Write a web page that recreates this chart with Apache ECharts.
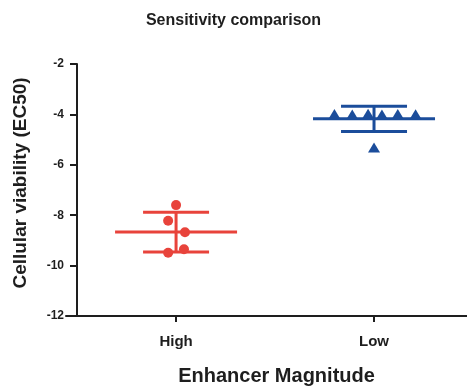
<!DOCTYPE html>
<html>
<head>
<meta charset="utf-8">
<script src="https://cdn.jsdelivr.net/npm/echarts@6/dist/echarts.min.js"></script>
<style>
  html, body { margin: 0; padding: 0; background: #fff; }
  #chart { width: 467px; height: 387px; }
</style>
</head>
<body>
<div id="chart"></div>
<script>
// groups on the x axis (group i sits at x = i)
const categories = ['High', 'Low'];
const categoryPositions = [0, 1];

// EC50 values, with the horizontal jitter of each dot
const highValues = [-7.6, -8.22, -8.68, -9.49, -9.35];
const highJitter = [0.0, -0.04, 0.045, -0.04, 0.04];
const lowValues = [-3.98, -4.0, -3.97, -4.0, -3.98, -3.99, -5.31];
const lowJitter = [-0.2, -0.11, -0.03, 0.04, 0.12, 0.21, 0.0];

const yTicks = [-12, -10, -8, -6, -4, -2];

const RED = '#e8433b';
const BLUE = '#1b4d9b';
const AXIS = '#1e1e1e';
const TEXT = '#1e1e1e';

function mean(arr) {
  return arr.reduce((a, b) => a + b, 0) / arr.length;
}

function sd(arr) {
  const m = mean(arr);
  return Math.sqrt(arr.reduce((a, b) => a + (b - m) * (b - m), 0) / (arr.length - 1));
}

function points(values, jitter, groupIndex) {
  return values.map((v, i) => [categoryPositions[groupIndex] + jitter[i], v]);
}

function errorBarSeries(values, groupIndex, color) {
  return {
    type: 'custom',
    z: 1,
    data: [[categoryPositions[groupIndex], mean(values), sd(values)]],
    renderItem: (params, api) => {
      const x = api.value(0);
      const m = api.value(1);
      const s = api.value(2);
      const mid = api.coord([x, m]);
      const top = api.coord([x, m + s]);
      const bottom = api.coord([x, m - s]);
      const style = { stroke: color, lineWidth: 3 };
      return {
        type: 'group',
        children: [
          { type: 'line', shape: { x1: mid[0] - 61, y1: mid[1], x2: mid[0] + 61, y2: mid[1] }, style },
          { type: 'line', shape: { x1: top[0] - 33, y1: top[1], x2: top[0] + 33, y2: top[1] }, style },
          { type: 'line', shape: { x1: bottom[0] - 33, y1: bottom[1], x2: bottom[0] + 33, y2: bottom[1] }, style },
          { type: 'line', shape: { x1: top[0], y1: top[1], x2: bottom[0], y2: bottom[1] }, style },
        ],
      };
    },
  };
}

const chart = echarts.init(document.getElementById('chart'), null, { renderer: 'canvas' });

chart.setOption({
  animation: false,
  textStyle: { fontFamily: 'Liberation Sans, Arial, sans-serif' },
  title: {
    text: 'Sensitivity comparison',
    left: 'center',
    top: 8,
    textStyle: { fontSize: 16, fontWeight: 'bold', color: TEXT },
  },
  grid: { left: 66, right: -6, top: 64, bottom: 71, outerBoundsMode: 'none', containLabel: false },
  xAxis: {
    type: 'value',
    min: -0.556,
    max: 1.5,
    name: 'Enhancer Magnitude',
    nameLocation: 'middle',
    nameGap: 50,
    nameTextStyle: { fontSize: 20, fontWeight: 'bold', color: TEXT, padding: [0, 0, 0, 14] },
    axisLine: { show: true, onZero: false, lineStyle: { color: AXIS, width: 2 } },
    axisTick: { show: true, customValues: categoryPositions, length: 6, lineStyle: { color: AXIS, width: 2 } },
    axisLabel: {
      customValues: categoryPositions,
      formatter: (v) => categories[Math.round(v)],
      fontSize: 15,
      fontWeight: 'bold',
      color: TEXT,
      margin: 18,
    },
    splitLine: { show: false },
  },
  yAxis: {
    type: 'value',
    min: yTicks[0],
    max: yTicks[yTicks.length - 1],
    interval: 2,
    offset: -11,
    name: 'Cellular viability (EC50)',
    nameLocation: 'middle',
    nameGap: 47,
    nameTextStyle: { fontSize: 19, fontWeight: 'bold', color: TEXT, padding: [0, 0, 0, 14] },
    axisLine: { show: true, onZero: false, lineStyle: { color: AXIS, width: 2 } },
    axisTick: { show: true, length: 7, lineStyle: { color: AXIS, width: 2 } },
    axisLabel: { fontSize: 12, fontWeight: 'bold', color: TEXT, margin: 13 },
    splitLine: { show: false },
  },
  series: [
    errorBarSeries(highValues, 0, RED),
    errorBarSeries(lowValues, 1, BLUE),
    {
      type: 'scatter',
      z: 3,
      symbol: 'circle',
      symbolSize: 10,
      itemStyle: { color: RED, opacity: 1 },
      data: points(highValues, highJitter, 0),
    },
    {
      type: 'scatter',
      z: 3,
      symbol: 'triangle',
      symbolSize: [12, 10],
      itemStyle: { color: BLUE, opacity: 1 },
      data: points(lowValues, lowJitter, 1),
    },
  ],
});
</script>
</body>
</html>
